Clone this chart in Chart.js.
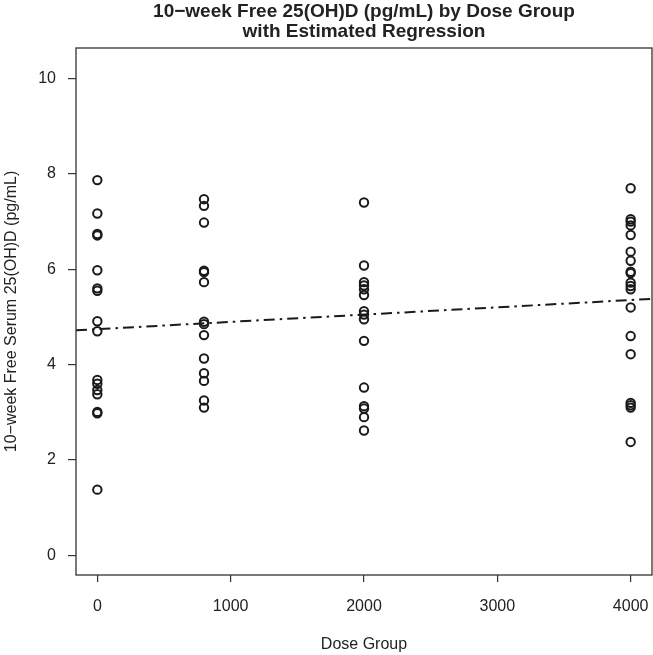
<!DOCTYPE html>
<html>
<head>
<meta charset="utf-8">
<script src="https://cdn.jsdelivr.net/npm/chart.js@4"></script>
<style>
html,body{margin:0;padding:0;background:#fff;}
#wrap{width:653px;height:655px;}
</style>
</head>
<body>
<div id="wrap"><canvas id="c" width="653" height="655"></canvas></div>
<script>
const titleLines = ["10\u2212week Free 25(OH)D (pg/mL) by Dose Group", "with Estimated Regression"];
const xAxisTitle = "Dose Group";
const yAxisTitle = "10\u2212week Free Serum 25(OH)D (pg/mL)";

const doseGroups = [0, 800, 2000, 4000];
const dose0 = [7.87, 7.17, 6.74, 6.71, 5.98, 5.60, 5.55, 4.91, 4.70, 3.68, 3.60, 3.47, 3.38, 3.01, 2.98, 1.38];
const dose800 = [7.47, 7.33, 6.98, 5.97, 5.94, 5.73, 4.90, 4.85, 4.62, 4.13, 3.82, 3.66, 3.25, 3.10];
const dose2000 = [7.40, 6.08, 5.73, 5.66, 5.58, 5.46, 5.12, 5.05, 4.95, 4.50, 3.52, 3.13, 3.08, 2.90, 2.62];
const dose4000 = [7.70, 7.05, 7.00, 6.92, 6.72, 6.37, 6.18, 5.95, 5.92, 5.72, 5.65, 5.58, 5.20, 4.60, 4.22, 3.20, 3.15, 3.10, 2.38];
const groupValues = [dose0, dose800, dose2000, dose4000];

const regX = [-160, 4160];
const regY = [4.72, 5.38];

const xTicks = [0, 1000, 2000, 3000, 4000];
const yTicks = [0, 2, 4, 6, 8, 10];
const xRange = [-160, 4160];
const yRange = [-0.41, 10.64];

const points = [];
groupValues.forEach((vals, i) => vals.forEach(v => points.push({x: doseGroups[i], y: v})));
const regPoints = regX.map((x, i) => ({x: x, y: regY[i]}));

const FONT = "'Liberation Sans', Arial, Helvetica, sans-serif";
const TXT = '#222';

const decor = {
  id: 'decor',
  afterDraw(chart) {
    const ctx = chart.ctx, a = chart.chartArea;
    ctx.save();
    ctx.strokeStyle = '#333';
    ctx.lineWidth = 1.3;
    ctx.strokeRect(a.left, a.top, a.right - a.left, a.bottom - a.top);
    const cx = (a.left + a.right) / 2;
    ctx.fillStyle = TXT;
    ctx.textAlign = 'center';
    ctx.textBaseline = 'middle';
    ctx.font = 'bold 19px ' + FONT;
    ctx.fillText(titleLines[0], cx, 12);
    ctx.fillText(titleLines[1], cx, 32);
    ctx.font = '16px ' + FONT;
    ctx.fillText(xAxisTitle, cx, 645);
    ctx.translate(12, (a.top + a.bottom) / 2);
    ctx.rotate(-Math.PI / 2);
    ctx.fillText(yAxisTitle, 0, 0);
    ctx.restore();
  }
};

new Chart(document.getElementById('c'), {
  type: 'scatter',
  data: {
    datasets: [
      {
        label: 'Observed',
        data: points,
        pointStyle: 'circle',
        pointRadius: 4.2,
        pointBorderWidth: 2,
        pointBackgroundColor: 'rgba(0,0,0,0)',
        pointBorderColor: '#1a1a1a',
        showLine: false
      },
      {
        type: 'line',
        label: 'Regression',
        data: regPoints,
        borderColor: '#1a1a1a',
        borderWidth: 2,
        borderDash: [11, 5, 2.5, 5],
        pointRadius: 0,
        fill: false,
        tension: 0
      }
    ]
  },
  options: {
    responsive: false,
    animation: false,
    devicePixelRatio: 1,
    layout: {autoPadding: false, padding: {top: 48, left: 0, right: 1, bottom: 0}},
    plugins: {legend: {display: false}, tooltip: {enabled: false}, title: {display: false}},
    scales: {
      x: {
        type: 'linear',
        min: xRange[0], max: xRange[1],
        afterBuildTicks(s) { s.ticks = xTicks.map(v => ({value: v})); },
        afterFit(s) { s.height = 80; s.paddingLeft = 0; s.paddingRight = 0; },
        grid: {display: true, drawOnChartArea: false, drawTicks: true, tickLength: 7, color: '#333', lineWidth: 1.2},
        border: {display: false},
        ticks: {color: TXT, font: {family: FONT, size: 16}, padding: 15, maxRotation: 0, autoSkip: false,
                callback: v => String(v)}
      },
      y: {
        type: 'linear',
        min: yRange[0], max: yRange[1],
        afterBuildTicks(s) { s.ticks = yTicks.map(v => ({value: v})); },
        afterFit(s) { s.width = 76; s.paddingTop = 0; s.paddingBottom = 0; },
        grid: {display: true, drawOnChartArea: false, drawTicks: true, tickLength: 8, color: '#333', lineWidth: 1.2},
        border: {display: false},
        ticks: {color: TXT, font: {family: FONT, size: 16}, padding: 12, autoSkip: false,
                callback: v => String(v)}
      }
    }
  },
  plugins: [decor]
});
</script>
</body>
</html>
